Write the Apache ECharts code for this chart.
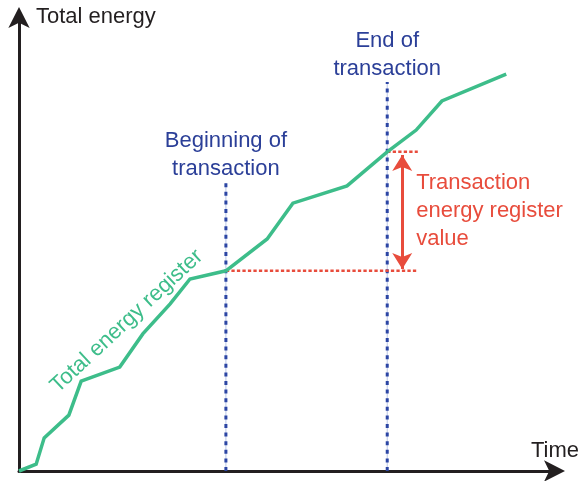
<!DOCTYPE html>
<html>
<head>
<meta charset="utf-8">
<script src="https://cdn.jsdelivr.net/npm/echarts@6/dist/echarts.min.js"></script>
<style>
  html, body { margin: 0; padding: 0; background: #fff; }
  #chart { width: 579px; height: 481px; }
</style>
</head>
<body>
<div id="chart"></div>
<script>
// Cumulative energy register over time (arbitrary units, 0-100 on both axes)
const timeValues   = [0, 3.2, 4.7, 9.3, 11.6, 18.8, 23.1, 28.2, 31.9, 38.6, 46.3, 51.1, 61.2, 68.7, 74.1, 78.9, 90.9];
const energyValues = [0, 1.5, 7.3, 12.3, 19.8, 22.9, 30.2, 36.8, 42.3, 44.1, 51.1, 59.0, 62.8, 70.3, 75.1, 81.5, 87.4];

// Transaction window
const txStartTime = 38.6, txEndTime = 68.7;
const txStartEnergy = 44.1, txEndEnergy = 70.3;
const txStartMarkerTop = 63.4, txEndMarkerTop = 85.7;
const levelGuideEnd = 74.4;   // right end of the dotted level guides
const arrowTime = 71.5;       // where the difference arrow sits

const axisTitles = { y: 'Total energy', x: 'Time' };
const labels = {
  curve: 'Total energy register',
  start: 'Beginning of\ntransaction',
  end: 'End of\ntransaction',
  diff: 'Transaction\nenergy register\nvalue'
};

const GREEN = '#3dbd8a', BLUE = '#2c46a4', BLUE_TEXT = '#2b3f98', RED = '#e84c3c', INK = '#231f20';
const FONT = 'Liberation Sans, Arial, sans-serif';
const FONT_SIZE = 22;

const curve = timeValues.map((t, i) => [t, energyValues[i]]);

const chart = echarts.init(document.getElementById('chart'), null, { renderer: 'canvas' });

function axis(name, extra) {
  return Object.assign({
    type: 'value', min: 0, max: 100, name: name,
    axisLine: { show: true, symbol: ['none', 'arrow'], symbolSize: [16, 21], symbolOffset: [0, 10],
                lineStyle: { color: INK, width: 3 } },
    axisTick: { show: false }, axisLabel: { show: false }, splitLine: { show: false }
  }, extra);
}

function guide(points, color, width, type) {
  return { type: 'line', data: points, symbol: 'none', clip: false, silent: true,
           lineStyle: { color: color, width: width, type: type }, z: 3 };
}

function textItem(pos, text, color, style) {
  return { value: pos, label: Object.assign({ show: true, formatter: text, color: color, opacity: 1,
           fontFamily: FONT, fontSize: FONT_SIZE, lineHeight: 28, position: 'inside' }, style) };
}

chart.setOption({
  animation: false,
  backgroundColor: '#fff',
  grid: { left: 19, right: 24, top: 17, bottom: 10, containLabel: false, outerBoundsMode: 'none' },
  xAxis: axis(axisTitles.x, {
    nameLocation: 'end', nameGap: 24,
    nameTextStyle: { color: INK, fontFamily: FONT, fontSize: FONT_SIZE, align: 'right',
                     verticalAlign: 'bottom', padding: [0, 0, 9, 0] }
  }),
  yAxis: axis(axisTitles.y, {
    nameLocation: 'end', nameGap: 0,
    nameTextStyle: { color: INK, fontFamily: FONT, fontSize: FONT_SIZE, align: 'left',
                     verticalAlign: 'middle', padding: [0, 0, 0, 17] }
  }),
  series: [
    // faint hairlines under the blue dotted markers
    guide([[txStartTime, 0], [txStartTime, txStartMarkerTop]], '#b9c5e6', 1, 'solid'),
    guide([[txEndTime, 0], [txEndTime, txEndMarkerTop]], '#b9c5e6', 1, 'solid'),
    guide([[txStartTime, 0], [txStartTime, txStartMarkerTop]], BLUE, 3, [4, 4.6]),
    guide([[txEndTime, 0], [txEndTime, txEndMarkerTop]], BLUE, 3, [4, 4.6]),
    guide([[txStartTime, txStartEnergy], [levelGuideEnd, txStartEnergy]], RED, 2.5, [3.3, 2.2]),
    guide([[txEndTime, txEndEnergy], [levelGuideEnd, txEndEnergy]], RED, 2.5, [3.3, 2.2]),
    {
      type: 'line', data: curve, symbol: 'none', clip: false, z: 4,
      lineStyle: { color: GREEN, width: 3.5, join: 'miter' }
    },
    {
      // double-headed arrow spanning the transaction's energy difference
      type: 'line', data: [], z: 5,
      markLine: {
        silent: true, animation: false,
        symbol: ['arrow', 'arrow'], symbolSize: [15, 16],
        label: { show: false },
        lineStyle: { color: RED, width: 3, type: 'solid', opacity: 1 },
        emphasis: { disabled: true },
        data: [[{ coord: [arrowTime, txStartEnergy + 0.4] }, { coord: [arrowTime, txEndEnergy - 0.7] }]]
      }
    },
    {
      type: 'scatter', symbolSize: 0, silent: true, z: 6,
      itemStyle: { opacity: 1 },
      data: [
        textItem([20.1, 33.0], labels.curve, GREEN, { rotate: 43, align: 'center', verticalAlign: 'middle' }),
        textItem([txStartTime, 69.6], labels.start, BLUE_TEXT, { align: 'center', verticalAlign: 'middle' }),
        textItem([txEndTime, 91.7], labels.end, BLUE_TEXT, { align: 'center', verticalAlign: 'middle' }),
        textItem([74.1, 57.3], labels.diff, RED, { align: 'left', verticalAlign: 'middle' })
      ]
    }
  ]
});
</script>
</body>
</html>
